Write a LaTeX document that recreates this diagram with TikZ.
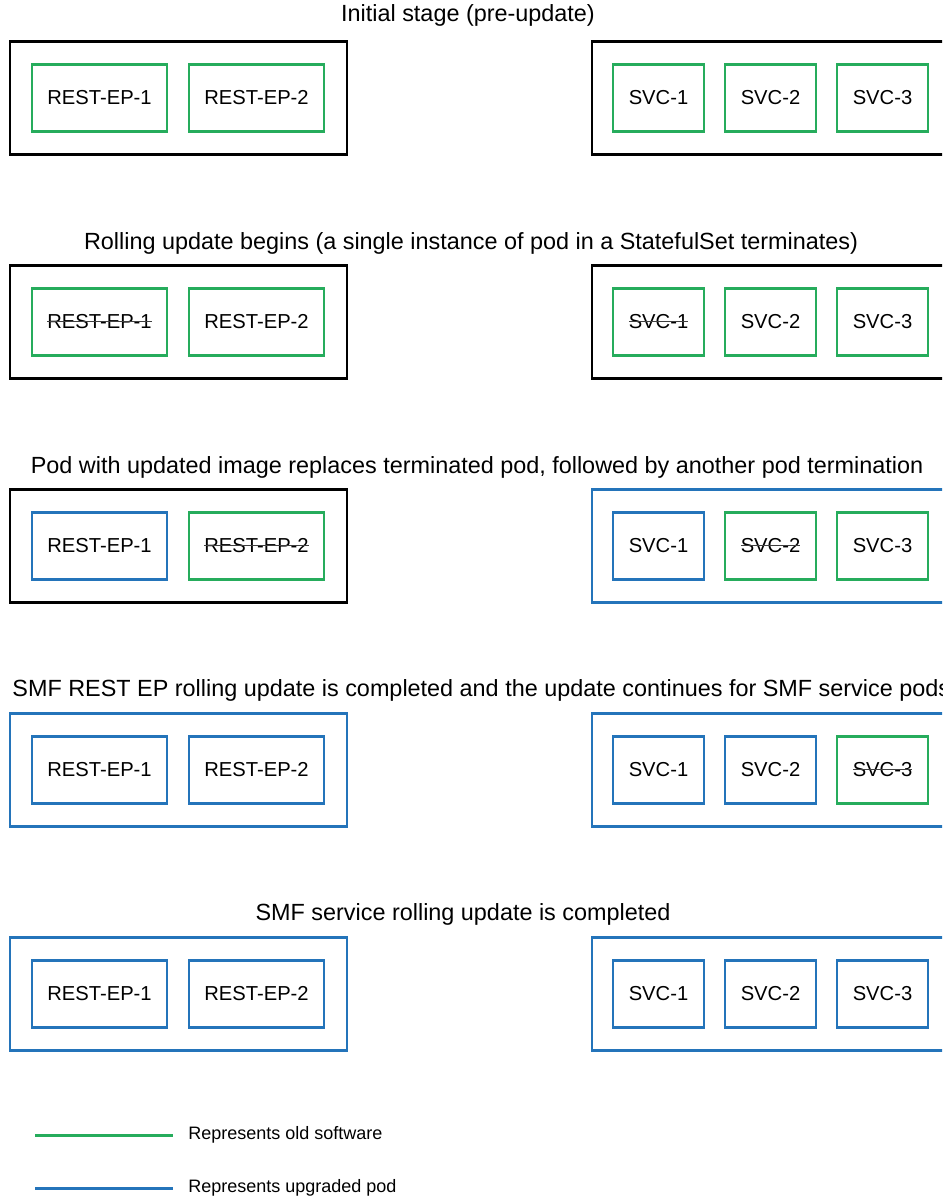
\documentclass[tikz,border=0pt]{standalone}
\usepackage{fontspec}
\setmainfont{Liberation Sans}
\usetikzlibrary{positioning}

\definecolor{oldgreen}{RGB}{38,172,92}
\definecolor{newblue}{RGB}{36,116,186}

\newsavebox\strikebox
\newcommand\strikeout[1]{\sbox\strikebox{#1}\rlap{\usebox\strikebox}{\color{black!75}\rule[0.33em]{\wd\strikebox}{0.6pt}}}
\newcommand\keeptext[1]{#1}
% x = struck (terminated), o = old, n = upgraded
\newcommand\podtext[2]{\if x#1\expandafter\strikeout\else\expandafter\keeptext\fi{#2}}

\begin{document}
\begin{tikzpicture}
  [x=0.5pt,y=-0.5pt,
    pod/.style={draw, line width=1.1pt, minimum width=67.5pt, minimum height=33.5pt, inner sep=0pt, font=\fontsize{10.1}{12}\selectfont},
    pod o/.style={pod, draw=oldgreen},
    pod x/.style={pod, draw=oldgreen},
    pod n/.style={pod, draw=newblue},
    svcbox/.style={minimum width=45.5pt},
    group k/.style={draw=black, line width=1.25pt, minimum height=56.5pt},
    group n/.style={draw=newblue, line width=1.25pt, minimum height=56.5pt},
    stage title/.style={font=\fontsize{11.7}{14}\selectfont, inner sep=0pt},
    legend text/.style={font=\fontsize{9}{11}\selectfont, inner sep=0pt},
  ]

  \clip (0,0) rectangle (942,1197);
  \useasboundingbox (0,0) rectangle (942,1197);

  \foreach \tx/\ty/\ta/\ttl/\lc/\ra/\rb/\rc/\sa/\sb/\sc [count=\r] in
    {468/15/center/{Initial stage (pre-update)}/k/o/o/k/o/o/o,
     471/243/center/{Rolling update begins (a single instance of pod in a StatefulSet terminates)}/k/x/o/k/x/o/o,
     477/467/center/{Pod with updated image replaces terminated pod, followed by another pod termination}/k/n/x/n/n/x/o,
     12/690/west/{SMF REST EP rolling update is completed and the update continues for SMF service pods}/n/n/n/n/n/n/x,
     463/914/center/{SMF service rolling update is completed}/n/n/n/n/n/n/n}
    {
     \pgfmathsetmacro{\rowy}{98+224*(\r-1)}
     \node[stage title, anchor=\ta] (title\r) at (\tx,\ty) {\ttl};
     % rest endpoints
     \node[group \lc, minimum width=168.5pt] (rest\r) at (178.5,\rowy) {};
     \node[pod \ra] (ep1-\r) at (99.5,\rowy) {\podtext{\ra}{REST-EP-1}};
     \node[pod \rb] (ep2-\r) at (256.5,\rowy) {\podtext{\rb}{REST-EP-2}};
     % service pods
     \node[group \rc, minimum width=200pt] (svc\r) at (792,\rowy) {};
     \node[pod \sa, svcbox] (svc1-\r) at (658.5,\rowy) {\podtext{\sa}{SVC-1}};
     \node[pod \sb, svcbox] (svc2-\r) at (770.5,\rowy) {\podtext{\sb}{SVC-2}};
     \node[pod \sc, svcbox] (svc3-\r) at (882.5,\rowy) {\podtext{\sc}{SVC-3}};
    }

  % legend
  \coordinate (oldA) at (35,1135);
  \coordinate (oldB) at (173,1135);
  \coordinate (newA) at (35,1188);
  \coordinate (newB) at (173,1188);
  \draw[oldgreen, line width=1.5pt] (oldA) -- (oldB);
  \draw[newblue, line width=1.5pt] (newA) -- (newB);
  \node[legend text, right=7.5pt of oldB] (oldtxt) {Represents old software};
  \node[legend text, right=7.5pt of newB] (newtxt) {Represents upgraded pod};

\end{tikzpicture}
\end{document}
